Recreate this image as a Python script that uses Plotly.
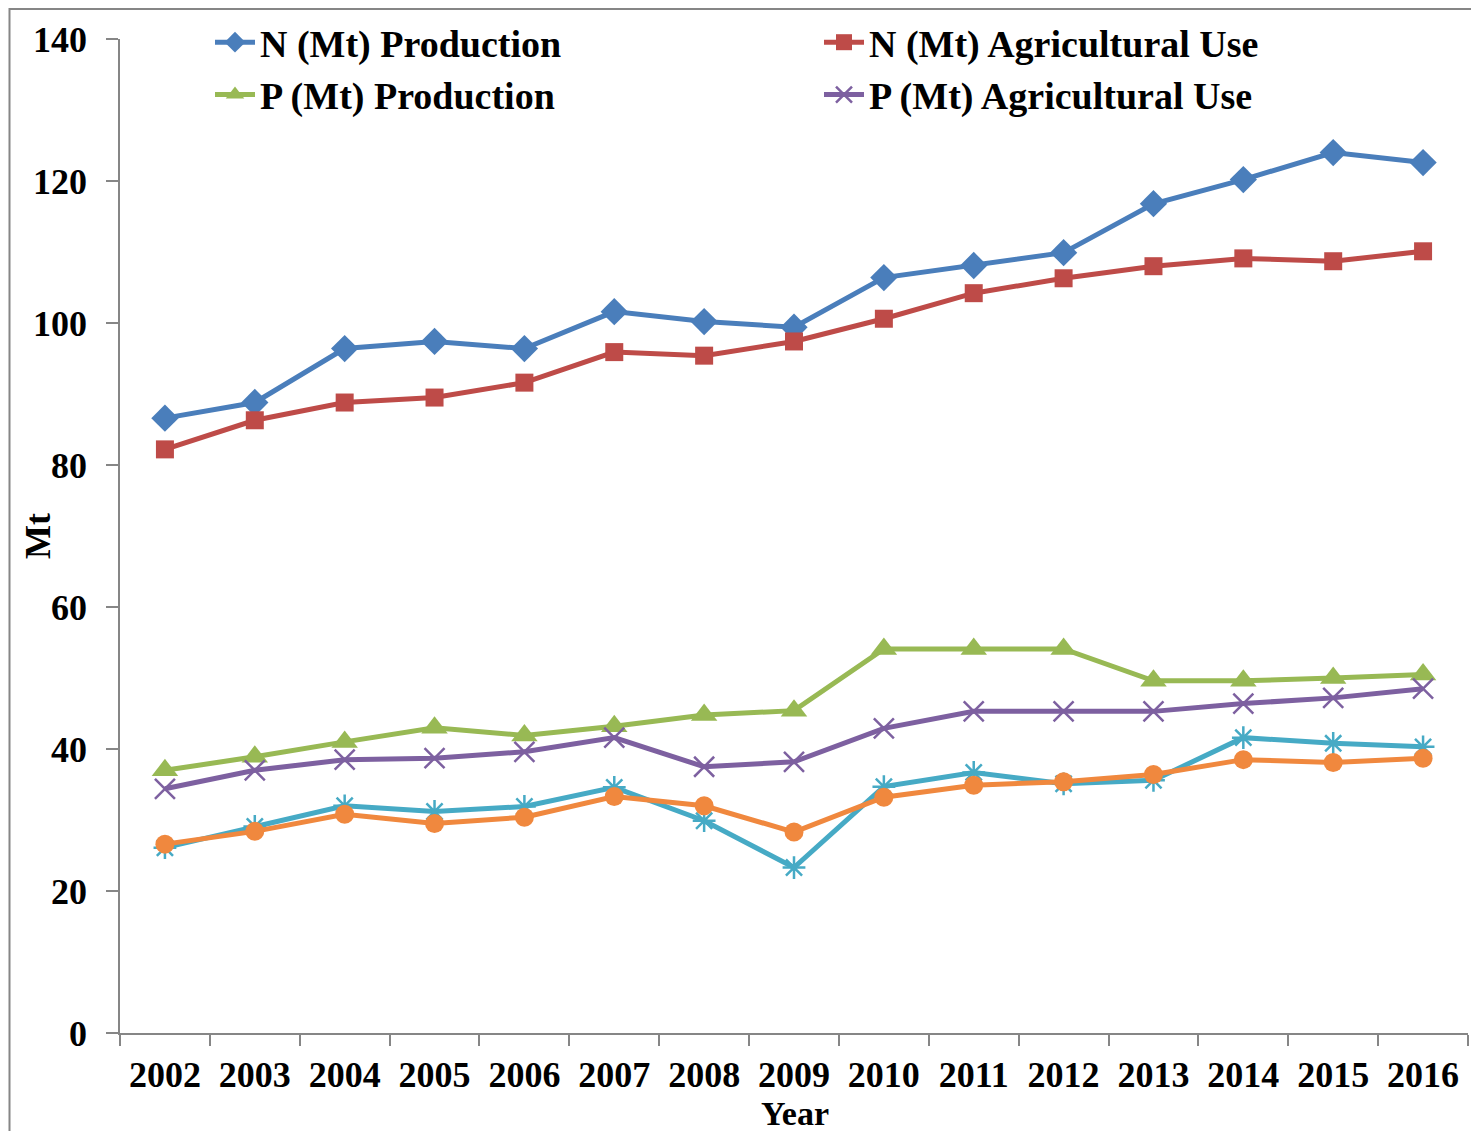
import plotly.graph_objects as go

years = [str(y) for y in range(2002, 2017)]
n_production = [86.6, 88.8, 96.4, 97.4, 96.4, 101.6, 100.2, 99.4, 106.4, 108.1, 109.9, 116.8, 120.2, 124.0, 122.6]
n_agri_use = [82.2, 86.3, 88.8, 89.5, 91.6, 95.9, 95.4, 97.4, 100.6, 104.2, 106.3, 108.0, 109.1, 108.7, 110.1]
p_production = [37.0, 38.9, 41.0, 43.0, 41.9, 43.2, 44.8, 45.4, 54.1, 54.1, 54.1, 49.6, 49.6, 50.0, 50.5]
p_agri_use = [34.4, 37.0, 38.5, 38.7, 39.6, 41.6, 37.5, 38.2, 42.9, 45.3, 45.3, 45.3, 46.4, 47.2, 48.5]
series5 = [26.1, 29.1, 32.0, 31.2, 31.9, 34.6, 29.9, 23.3, 34.7, 36.7, 35.1, 35.6, 41.6, 40.8, 40.3]
series6 = [26.6, 28.4, 30.8, 29.5, 30.4, 33.3, 32.0, 28.3, 33.2, 34.9, 35.4, 36.4, 38.5, 38.1, 38.7]

FONT = "Liberation Serif"
BOLD = dict(family=FONT, color="black", weight="bold")

fig = go.Figure()

def add(name, vals, color, symbol, size, show=True, open_sym=False):
    marker = dict(symbol=symbol, size=size, color=color)
    if open_sym:
        marker["line"] = dict(color=color, width=2.5)
    fig.add_trace(go.Scatter(
        x=years, y=vals, name=name, mode="lines+markers",
        line=dict(color=color, width=5),
        marker=marker, showlegend=show,
    ))

add("N (Mt) Production", n_production, "#4A7EBB", "diamond", 21)
add("N (Mt) Agricultural Use", n_agri_use, "#BE4B48", "square", 18)
add("P (Mt) Production", p_production, "#98B954", "triangle-up", 23)
add("P (Mt) Agricultural Use", p_agri_use, "#7D60A0", "x-thin-open", 20, open_sym=True)
add("Series 5", series5, "#46AAC5", "asterisk-open", 19, show=False, open_sym=True)
add("Series 6", series6, "#F0883E", "circle", 19, show=False)

# page body has an 8px margin, so figure coords = reference coords - 8
OFF = 8
W, H = 1479, 1131
L = 120 - OFF
T = 39 - OFF
R = W - (1468 - OFF)
B = H - (1033 - OFF)
pw, ph = W - L - R, H - T - B

fig.update_layout(
    width=W, height=H,
    margin=dict(l=L, r=R, t=T, b=B, pad=0, autoexpand=False),
    paper_bgcolor="white", plot_bgcolor="white",
    font=dict(size=36, **BOLD),
    legend=dict(
        orientation="h", xref="container", yref="container",
        x=(210 - OFF) / W, y=1 - 3 / H,
        xanchor="left", yanchor="top",
        entrywidth=554, entrywidthmode="pixels",
        font=dict(size=38, **BOLD),
        bgcolor="rgba(0,0,0,0)", itemwidth=40, tracegroupgap=0,
    ),
    xaxis=dict(
        type="category", range=[-0.5, 14.5], tickson="boundaries",
        ticks="outside", ticklen=11, tickcolor="#868686", tickwidth=1.5,
        showline=True, linecolor="#868686", linewidth=1.5, showgrid=False,
        tickfont=dict(size=36, **BOLD), automargin=False, zeroline=False,
        ticklabelstandoff=9,
    ),
    yaxis=dict(
        range=[0, 140], dtick=20, ticks="outside", ticklen=12,
        tickcolor="#868686", tickwidth=1.5,
        showline=True, linecolor="#868686", linewidth=1.5, showgrid=False,
        zeroline=False, automargin=False, ticklabelstandoff=12,
        tickfont=dict(size=36, **BOLD),
    ),
)

fig.add_annotation(text="Year", xref="paper", yref="paper",
                   x=(795 - OFF - L) / pw, y=-(1113 - OFF - T - ph) / ph,
                   xanchor="center", yanchor="middle", showarrow=False,
                   font=dict(size=34, **BOLD))
fig.add_annotation(text="Mt", xref="paper", yref="paper",
                   x=(38 - OFF - L) / pw, y=1 - (536 - OFF - T) / ph, textangle=-90,
                   xanchor="center", yanchor="middle", showarrow=False,
                   font=dict(size=36, **BOLD))

# outer chart frame (partly beyond the page edge, as in the reference)
fig.add_shape(type="rect", xref="paper", yref="paper",
              x0=(1.5 - L) / pw, x1=(W + 20 - L) / pw,
              y0=-(H + 20 - T - ph) / ph, y1=1 + (T - 1) / ph,
              line=dict(color="#868686", width=2), fillcolor="rgba(0,0,0,0)", layer="below")

fig.write_html("out.html")
